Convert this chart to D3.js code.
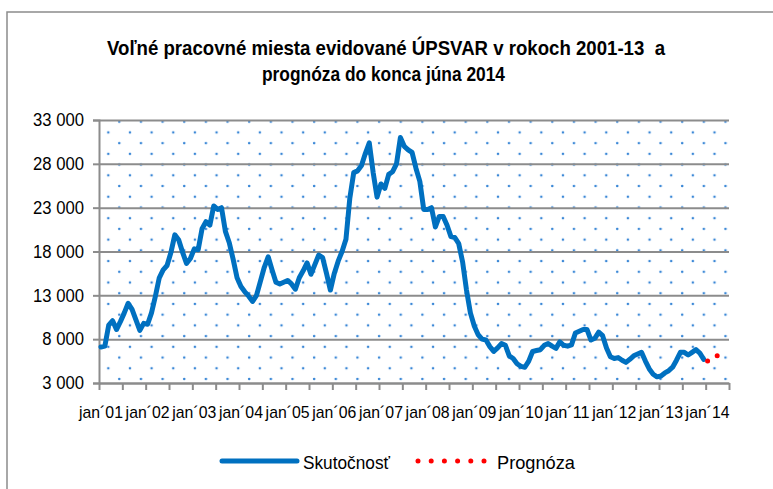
<!DOCTYPE html>
<html>
<head>
<meta charset="utf-8">
<script src="https://cdn.jsdelivr.net/npm/d3@7"></script>
<style>
  body { margin: 0; background: #fff; }
  svg { display: block; font-family: 'Liberation Sans', Arial, sans-serif; }
</style>
</head>
<body>
<svg id="canvas"></svg>
<script>
// monthly values jan 2001 - dec 2013
let actual = [
  7100, 7200, 9600, 10100, 9100, 10000, 11000, 12100, 11400, 10200, 9000, 9800,
  9700, 11000, 12900, 15000, 15900, 16400, 17900, 19900, 19300, 17900, 16650, 17200,
  18300, 18200, 20600, 21400, 21000, 23200, 22800, 23000, 20300, 19000, 17100, 15000,
  14000, 13400, 12900, 12300, 13000, 14600, 16200, 17400, 15900, 14500, 14300, 14500,
  14700, 14300, 13700, 15000, 15800, 16700, 15400, 16500, 17600, 17300, 15500, 13600,
  15500, 16900, 18000, 19400, 24100, 27000, 27200, 27800, 29200, 30400, 27000, 24200,
  25700, 25200, 26800, 27100, 28000, 31000, 30000, 29600, 29300, 27500, 26000, 22800,
  22800, 23000, 20800, 22000, 22000, 21000, 19700, 19600, 18900, 16800, 13600, 11000,
  9500, 8500, 8000, 7900, 7150, 6600, 7000, 7500, 7300, 6100, 5800, 5200,
  4900, 4800, 5500, 6600, 6700, 6800, 7300, 7500, 7200, 6950, 7700, 7300,
  7200, 7350, 8700, 8900, 9100, 9100, 7900, 8100, 8800, 8400, 7000, 6000,
  5800, 5900, 5600, 5350, 5700, 6100, 6300, 6500, 5500, 4600, 4000, 3700,
  3800, 4150, 4400, 4800, 5600, 6500, 6500, 6200, 6500, 6800, 6400, 5700
];
// forecast jan 2014 - jun 2014
let forecast = [5500, 5800, 6050, 6150, 6200, 6250];
let forecastStart = actual.length;

let yearLabels = ['jan´01', 'jan´02', 'jan´03', 'jan´04', 'jan´05', 'jan´06', 'jan´07',
  'jan´08', 'jan´09', 'jan´10', 'jan´11', 'jan´12', 'jan´13', 'jan´14'];
let yTicks = [3000, 8000, 13000, 18000, 23000, 28000, 33000];

let width = 773;
let height = 489;
let plot = { left: 99, right: 729, top: 120, bottom: 383 };
let totalMonths = actual.length + forecast.length;

let canvas = d3.select('#canvas').attr('width', width).attr('height', height);

let xScale = d3.scaleLinear().domain([0, totalMonths]).range([plot.left, plot.right]);
let yScale = d3.scaleLinear().domain([3000, 33000]).range([plot.bottom, plot.top]);

let fmt = v => d3.format(',')(v).replace(',', ' ');

// the original uses a narrow font, so squeeze glyphs with textLength
let narrow = (sel, len) => sel.attr('textLength', len).attr('lengthAdjust', 'spacingAndGlyphs');

// outer frame
canvas.append('rect')
  .attr('x', 7).attr('y', 12).attr('width', 800).attr('height', 500)
  .attr('fill', 'none').attr('stroke', '#8c8c8c').attr('stroke-width', 1.5);

// title
let title = canvas.append('g')
  .attr('font-weight', 'bold')
  .attr('font-size', 21)
  .attr('fill', '#000');
title.append('text').attr('x', 107).attr('y', 55)
  .attr('xml:space', 'preserve')
  .text('Voľné pracovné miesta evidované ÚPSVAR v rokoch 2001-13  a')
  .call(narrow, 558);
title.append('text').attr('x', 262).attr('y', 81)
  .text('prognóza do konca júna 2014')
  .call(narrow, 243);

// dotted plot background
let defs = canvas.append('defs');
let pat = defs.append('pattern')
  .attr('id', 'dots')
  .attr('patternUnits', 'userSpaceOnUse')
  .attr('x', 108.3).attr('y', 121.7)
  .attr('width', 21.65).attr('height', 21.44);
pat.append('circle').attr('cx', 11).attr('cy', 0).attr('r', 1.3).attr('fill', '#3a87d6');
pat.append('circle').attr('cx', 11).attr('cy', 21.44).attr('r', 1.3).attr('fill', '#3a87d6');
pat.append('circle').attr('cx', 0).attr('cy', 10.72).attr('r', 1.3).attr('fill', '#3a87d6');
pat.append('circle').attr('cx', 21.65).attr('cy', 10.72).attr('r', 1.3).attr('fill', '#3a87d6');

canvas.append('rect')
  .attr('x', plot.left).attr('y', plot.top)
  .attr('width', plot.right - plot.left).attr('height', plot.bottom - plot.top)
  .attr('fill', 'url(#dots)');

// y axis with gridlines
let yAxis = d3.axisLeft(yScale)
  .tickValues(yTicks)
  .tickFormat(fmt)
  .tickSize(6)
  .tickPadding(9);

let yG = canvas.append('g')
  .attr('id', 'y-axis')
  .attr('transform', `translate(${plot.left}, 0)`)
  .call(yAxis);
yG.select('.domain').attr('stroke', '#8c8c8c').attr('stroke-width', 2);
yG.selectAll('.tick line').attr('stroke', '#8c8c8c').attr('stroke-width', 2);
yG.selectAll('.tick text')
  .attr('font-size', 18).attr('fill', '#000')
  .attr('font-family', "'Liberation Sans', Arial, sans-serif")
  .each(function (d) {
    let digits = String(d).length;
    narrow(d3.select(this), digits * 9.3 + 4.5);
  });
yG.selectAll('.tick').append('line')
  .attr('x1', 0).attr('x2', plot.right - plot.left)
  .attr('stroke', '#8c8c8c').attr('stroke-width', 2);

// x axis: ticks every 6 months, labels every 12 months
let xAxis = d3.axisBottom(xScale)
  .tickValues(d3.range(0, totalMonths + 1, 6))
  .tickFormat('')
  .tickSize(7)
  .tickSizeOuter(0);

let xG = canvas.append('g')
  .attr('id', 'x-axis')
  .attr('transform', `translate(0, ${plot.bottom})`)
  .call(xAxis);
xG.select('.domain').attr('stroke', '#8c8c8c').attr('stroke-width', 2);
xG.selectAll('.tick line').attr('stroke', '#8c8c8c').attr('stroke-width', 2);

canvas.append('g')
  .selectAll('text')
  .data(yearLabels)
  .join('text')
  .attr('x', (d, i) => xScale(i * 12 + 0.5))
  .attr('y', plot.bottom + 35)
  .attr('text-anchor', 'middle')
  .attr('font-size', 17)
  .attr('fill', '#000')
  .text(d => d)
  .call(narrow, 44);

// lines
let line = d3.line()
  .x(d => xScale(d.i + 0.5))
  .y(d => yScale(d.v));

canvas.append('path')
  .datum(actual.map((v, i) => ({ i: i, v: v })))
  .attr('d', line)
  .attr('fill', 'none')
  .attr('stroke', '#0070c0')
  .attr('stroke-width', 5)
  .attr('stroke-linejoin', 'round')
  .attr('stroke-linecap', 'round');

canvas.append('path')
  .datum(forecast.map((v, i) => ({ i: forecastStart + i, v: v })))
  .attr('d', line)
  .attr('fill', 'none')
  .attr('stroke', '#ff0000')
  .attr('stroke-width', 5)
  .attr('stroke-linecap', 'round')
  .attr('stroke-dasharray', '0 11');

// legend
let legend = canvas.append('g').attr('transform', 'translate(0, 461)');
legend.append('line')
  .attr('x1', 222).attr('x2', 297)
  .attr('stroke', '#0070c0').attr('stroke-width', 5).attr('stroke-linecap', 'round');
legend.append('text')
  .attr('x', 303).attr('y', 8).attr('font-size', 19).attr('fill', '#000')
  .text('Skutočnosť')
  .call(narrow, 87);
legend.append('line')
  .attr('x1', 418).attr('x2', 485)
  .attr('stroke', '#ff0000').attr('stroke-width', 5).attr('stroke-linecap', 'round')
  .attr('stroke-dasharray', '0 13.2');
legend.append('text')
  .attr('x', 497).attr('y', 8).attr('font-size', 19).attr('fill', '#000')
  .text('Prognóza')
  .call(narrow, 78);
</script>
</body>
</html>
